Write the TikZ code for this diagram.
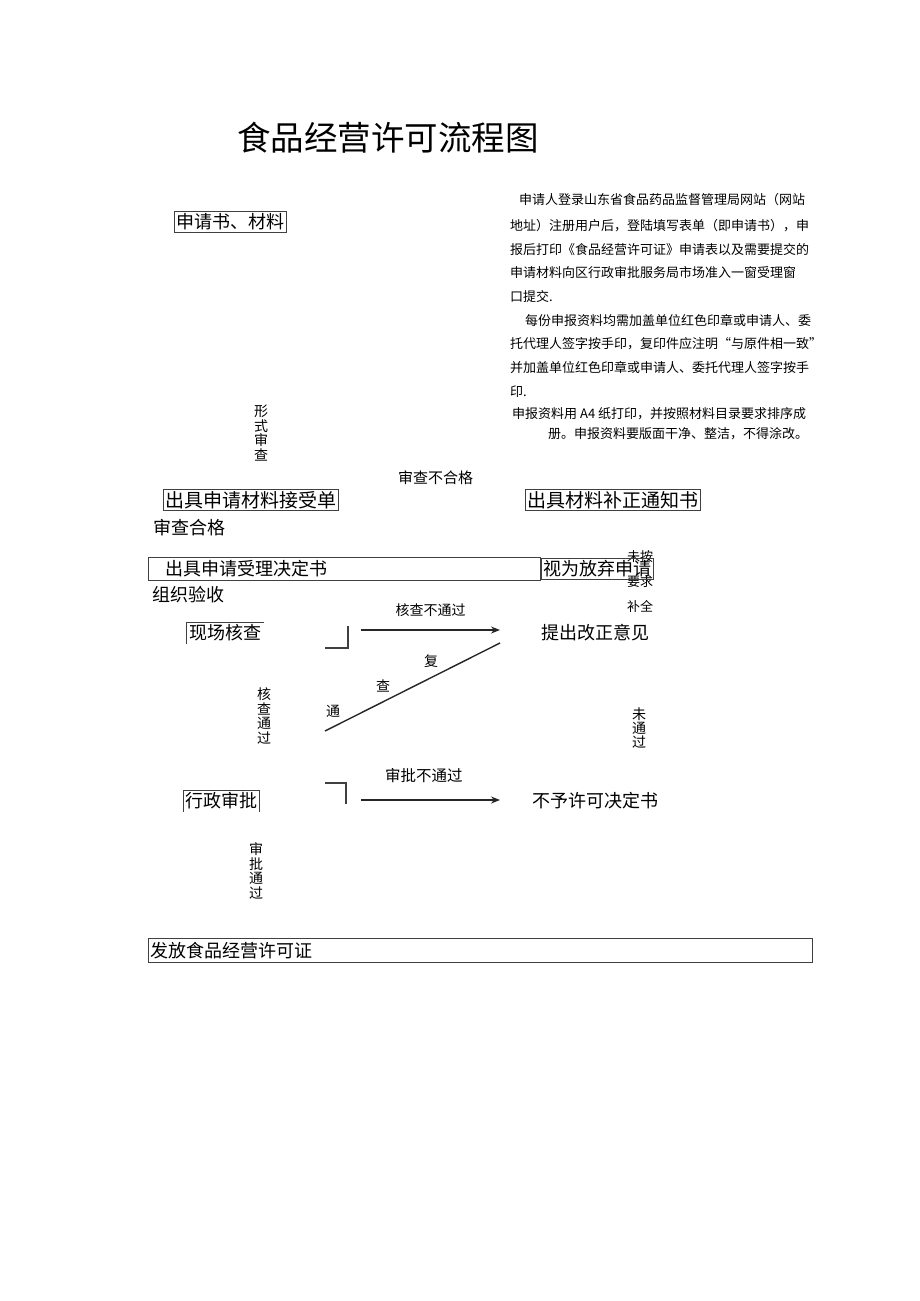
\documentclass[tikz,border=0pt]{standalone}
\usepackage{fontspec}
\newfontfamily\cjk{Noto Sans CJK SC}
\usetikzlibrary{positioning}
\usetikzlibrary{arrows.meta}

\newcommand{\fsz}[1]{\cjk\fontsize{#1}{#1}\selectfont}

\begin{document}
\begin{tikzpicture}[x=1pt,y=-1pt,
    box/.style={draw=black!75, line width=0.9pt, inner xsep=2pt, inner ysep=2pt, anchor=west},
    txt/.style={inner sep=0pt, anchor=west, font=\fsz{18}},
    note/.style={inner sep=0pt, anchor=west, font=\fsz{13}},
    vtxt/.style={inner sep=0pt, align=center, font=\cjk\fontsize{14}{14.6}\selectfont},
    flow/.style={line width=1.4pt, draw=black!85, -{Stealth[length=9pt,width=7pt]}}
    ]
\edef\arrL{361}
\edef\arrR{500}

\fill[white] (0,0) rectangle (920,1301);
\useasboundingbox (0,0) rectangle (920,1301);

\node[txt, font=\fsz{33.5}] (title) at (237,138) {食品经营许可流程图};

% notes on the right
\node[note] (n1) at (519,200) {申请人登录山东省食品药品监督管理局网站（网站};
\node[note] (n2) at (510,226) {地址）注册用户后，登陆填写表单（即申请书），申};
\node[note] (n3) at (510,250) {报后打印《食品经营许可证》申请表以及需要提交的};
\node[note] (n4) at (510,273) {申请材料向区行政审批服务局市场准入一窗受理窗};
\node[note] (n5) at (510,297) {口提交.};
\node[note] (n6) at (525,320) {每份申报资料均需加盖单位红色印章或申请人、委};
\node[note] (n7) at (510,344) {托代理人签字按手印，复印件应注明“与原件相一致”};
\node[note] (n8) at (510,368) {并加盖单位红色印章或申请人、委托代理人签字按手};
\node[note] (n9) at (510,392) {印.};
\node[note] (n10) at (512,414) {申报资料用 A4 纸打印，并按照材料目录要求排序成};
\node[note] (n11) at (548,434) {册。申报资料要版面干净、整洁，不得涂改。};

% main column
\node[box, font=\fsz{18}] (sqs) at (174,222) {申请书、材料};
\node[vtxt] (xssc) at (261,433) {形\\式\\审\\查};
\node[txt, font=\fsz{15}] (scbhg) at (398,478) {审查不合格};
\node[box, font=\fsz{19}] (jsd) at (163,500) {出具申请材料接受单};
\node[box, font=\fsz{19}] (bztz) at (525,500) {出具材料补正通知书};
\node[txt] (schg) at (153,528) {审查合格};

\node[vtxt, font=\cjk\fontsize{13}{25}\selectfont] (wabq) at (640,582) {未按\\要求\\补全};
\node[box, font=\fsz{18}, inner xsep=17pt, inner ysep=3.5pt, text width=358pt] (slj) at (148,569) {出具申请受理决定书};
\node[box, font=\fsz{18}] (fq) at (541,569) {视为放弃申请};
\node[txt] (zzys) at (152,595) {组织验收};

\node[txt, inner xsep=3pt, inner ysep=2pt] (xchc) at (186,633) {现场核查};
\draw[black!75, line width=0.9pt] (xchc.south west) -- (xchc.north west) -- (xchc.north east);
\draw[black!75, line width=1.2pt] (325,648) -- (348,648) -- (348,626);

\coordinate (hcL) at (\arrL,630);
\coordinate (hcR) at (\arrR,630);
\draw[flow] (hcL) -- (hcR) node[midway, above=13pt, inner sep=0pt, font=\fsz{14}] (hcbtg) {核查不通过};
\node[txt] (gzyj) at (541,633) {提出改正意见};

\coordinate (fcA) at (325,731);
\coordinate (fcB) at (500,643);
\draw[line width=1.4pt, black!85] (fcA) -- (fcB);
\node[inner sep=0pt, font=\fsz{14}] (fu) at (431,661) {复};
\node[inner sep=0pt, font=\fsz{14}] (cha) at (383,686) {查};
\node[inner sep=0pt, font=\fsz{14}] (tong) at (333,711) {通};

\node[vtxt, font=\cjk\fontsize{14}{14.8}\selectfont] (hctg) at (264,716) {核\\查\\通\\过};
\node[vtxt, font=\cjk\fontsize{14}{14.4}\selectfont] (wtg) at (639,728) {未\\通\\过};

\node[txt, font=\fsz{15.5}] (spbtg) at (385,776) {审批不通过};
\draw[black!75, line width=1.2pt] (325,783) -- (346,783) -- (346,804);
\coordinate (spL) at (\arrL,800);
\coordinate (spR) at (\arrR,800);
\draw[flow] (spL) -- (spR);
\node[txt] (byxk) at (532,801) {不予许可决定书};

\node[txt, inner xsep=2pt, inner ysep=2pt] (xzsp) at (183,801) {行政审批};
\draw[black!75, line width=0.9pt] (xzsp.south west) -- (xzsp.north west) -- (xzsp.north east) -- (xzsp.south east);

\node[vtxt] (sptg) at (256,871) {审\\批\\通\\过};

\node[box, font=\fsz{18}, inner ysep=3.5pt, text width=660pt] (ffxk) at (148,950.5) {发放食品经营许可证};
\end{tikzpicture}
\end{document}
